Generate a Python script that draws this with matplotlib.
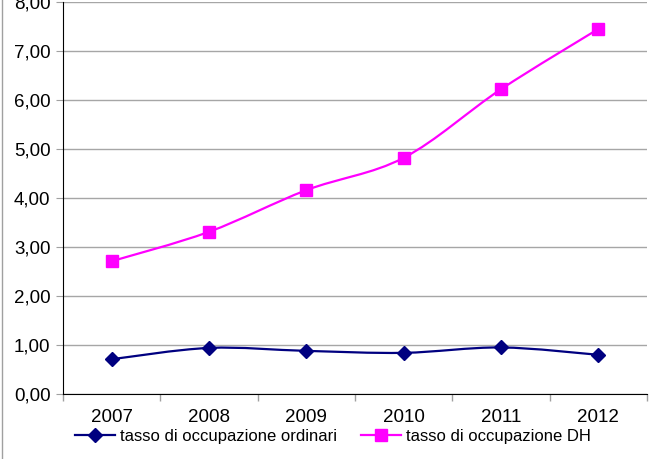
import numpy as np
import matplotlib.pyplot as plt
from matplotlib.path import Path
from matplotlib.patches import PathPatch
from matplotlib.lines import Line2D
from matplotlib.ticker import FuncFormatter, FixedLocator

plt.rcParams['font.family'] = ['Liberation Sans', 'DejaVu Sans']

anni = ['2007', '2008', '2009', '2010', '2011', '2012']
ordinari = [0.71, 0.94, 0.88, 0.84, 0.95, 0.80]
dh = [2.71, 3.31, 4.16, 4.82, 6.22, 7.45]
nome_ord = 'tasso di occupazione ordinari'
nome_dh = 'tasso di occupazione DH'


def curva_liscia(x, y):
    # tratto smussato tipo Excel (bezier cubiche tra i punti)
    pts = np.column_stack([x, y]).astype(float)
    n = len(pts)
    verts = [pts[0]]
    codes = [Path.MOVETO]
    for i in range(n - 1):
        p0 = pts[i - 1] if i > 0 else pts[i]
        p1 = pts[i]
        p2 = pts[i + 1]
        p3 = pts[i + 2] if i + 2 < n else pts[i + 1]
        c1 = p1 + (p2 - p0) / 6.0
        c2 = p2 - (p3 - p1) / 6.0
        verts += [c1, c2, p2]
        codes += [Path.CURVE4] * 3
    return Path(verts, codes)


fig = plt.figure(figsize=(6.54, 4.59), dpi=100)
ax = fig.add_axes([63 / 654, 65 / 459, 584 / 654, 392 / 459])

x = np.arange(len(anni))
for serie, col, mk, ms in [(ordinari, '#000080', 'D', 7), (dh, '#FF00FF', 's', 8)]:
    ax.add_patch(PathPatch(curva_liscia(x, serie), fill=False, edgecolor=col, lw=1.6, zorder=3))
    ax.plot(x, serie, ls='none', marker=mk, ms=ms, color=col, zorder=4)

ax.set_xlim(-0.5, len(anni) - 0.5)
ax.set_ylim(0, 8)
ax.set_yticks(np.arange(0, 9, 1))
ax.yaxis.set_major_formatter(FuncFormatter(lambda v, p: ('%.2f' % v).replace('.', ',')))
ax.xaxis.set_major_locator(FixedLocator(np.arange(-0.5, len(anni), 1)))
ax.xaxis.set_major_formatter(FuncFormatter(lambda v, p: ''))
ax.xaxis.set_minor_locator(FixedLocator(x))
ax.set_xticklabels(anni, minor=True)
ax.tick_params(axis='x', which='minor', length=0, labelsize=13.5, pad=11)
ax.tick_params(axis='x', which='major', length=5, color='#a0a0a0', width=1)
ax.tick_params(axis='y', length=5, color='#a0a0a0', labelsize=13.5, pad=4)

ax.grid(axis='y', color='#a6a6a6', lw=1)
ax.set_axisbelow(True)
for s in ['top', 'right']:
    ax.spines[s].set_visible(False)
ax.spines['left'].set_color('black')
ax.spines['bottom'].set_color('black')

h1 = Line2D([], [], color='#000080', marker='D', ms=7, lw=1.6)
h2 = Line2D([], [], color='#FF00FF', marker='s', ms=8, lw=1.6)
fig.legend([h1, h2], [nome_ord, nome_dh], loc='center', bbox_to_anchor=(333 / 654, 23 / 459),
           ncol=2, frameon=False, fontsize=12, handlelength=2.4, handletextpad=0.3,
           columnspacing=1.4)

fig.add_artist(Line2D([2 / 654, 2 / 654], [0, 1], color='#a0a0a0', lw=1, transform=fig.transFigure))

fig.savefig('out.png', dpi=100)
